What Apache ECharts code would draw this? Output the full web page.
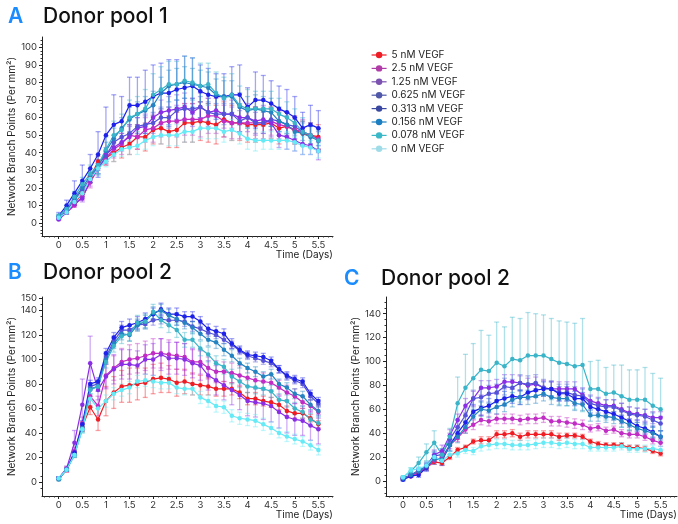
<!DOCTYPE html>
<html>
<head>
<meta charset="utf-8">
<title>Network branch points per donor pool</title>
<script src="https://cdn.jsdelivr.net/npm/echarts@6/dist/echarts.min.js"></script>
<style>
  html, body { margin: 0; padding: 0; background: #fff; }
  #main { width: 678px; height: 524px; }
</style>
</head>
<body>
<div id="main"></div>
<script>
// time points, every 4 h
var times = [0,0.1667,0.3333,0.5,0.6667,0.8333,1,1.1667,1.3333,1.5,1.6667,1.8333,2,2.1667,2.3333,2.5,2.6667,2.8333,
  3,3.1667,3.3333,3.5,3.6667,3.8333,4,4.1667,4.3333,4.5,4.6667,4.8333,5,5.1667,5.3333,5.5];

var names = ['5 nM VEGF','2.5 nM VEGF','1.25 nM VEGF','0.625 nM VEGF','0.313 nM VEGF','0.156 nM VEGF','0.078 nM VEGF','0 nM VEGF'];
var lineColors = ['#f01c24','#c02cc4','#8a2ee6','#5552d8','#1e22e8','#2483c0','#3ab4c8','#66eaf6'];
var legendColors = ['#ee1c25','#b03ca8','#7b52b0','#5058a8','#3a48a0','#1a7ec0','#3ab8c8','#a0dce8'];

// A - donor pool 1
var a5     = [3,6,11,17,26,35,37,40,43,45,49,49,53,54,52,53,57,57,58,57,56,59,57,57,56,56,56,57,54,55,53,51,50,49];
var a2_5   = [3,6,10,15,23,31,37,42,45,50,49,53,54,57,58,58,59,59,59,61,61,58,57,57,57,57,57,58,56,55,53,52,50,48];
var a1_25  = [2,6,11,14,24,33,39,43,46,49,54,55,60,63,64,65,66,63,66,63,64,62,62,60,60,58,59,57,50,49,47,45,44,41];
var a0_625 = [3,7,13,19,25,31,38,46,49,51,55,56,57,60,60,64,65,65,66,63,62,62,62,58,60,57,57,59,58,56,55,52,50,47];
var a0_313 = [4,10,17,24,31,39,50,56,58,67,67,69,72,74,74,76,77,78,75,73,72,72,73,73,66,70,70,68,65,63,60,54,56,54];
var a0_156 = [4,8,14,20,27,32,41,48,54,59,62,64,67,74,78,79,80,79,78,77,73,72,72,66,64,65,64,63,58,56,52,51,49,47];
var a0_078 = [4,8,15,22,28,33,42,50,53,60,62,65,73,76,79,79,81,80,78,79,74,71,73,67,65,65,65,65,62,60,57,52,50,47];
var a0     = [3,6,12,17,25,31,35,39,42,43,44,47,49,50,50,50,52,52,54,54,54,52,53,51,48,47,47,47,47,47,46,44,43,41];

var a5e     = [0.5,1,1,2,3,3,4,5,6,6,7,8,8,9,9,10,11,11,11,11,11,10,10,10,10,10,9,9,9,8,8,7,7,7];
var a2_5e   = [0.5,1,1,2,3,3,4,5,6,6,7,7,8,8,8,9,9,9,10,10,10,9,9,9,9,9,9,8,8,8,7,7,7,6];
var a1_25e  = [0.5,1,1,2,3,3,4,5,5,6,6,7,7,7,8,8,8,8,8,8,8,8,8,8,8,8,8,8,7,7,6,6,5,5];
var a0_625e = [0.5,1,1,2,2,3,3,4,4,5,5,5,6,6,6,6,6,6,6,6,6,6,6,6,6,6,6,6,6,5,5,5,5,5];
var a0_313e = [2,3,7,9,8,13,16,17,14,16,16,18,18,17,19,17,18,16,15,15,13,13,16,17,11,16,14,13,13,13,12,9,11,10];
var a0_156e = [1,2,2,3,4,4,5,6,6,7,7,8,8,9,9,9,9,9,9,9,9,9,9,8,8,8,8,8,8,7,7,7,6,6];
var a0_078e = [1,2,3,4,5,6,7,8,9,10,10,11,12,13,13,13,14,14,13,12,12,12,12,11,11,10,10,10,9,9,8,8,7,7];
var a0e     = [0.5,1,1,2,2,3,3,4,4,4,5,5,5,5,6,6,6,6,6,6,6,6,6,6,6,6,5,5,5,5,5,5,4,4];

// B - donor pool 2
var b5     = [3,10,23,45,61,51,66,73,78,79,80,81,84,85,84,81,82,80,79,78,76,76,76,73,68,68,66,65,63,58,56,56,52,47];
var b2_5   = [3,10,25,48,70,62,87,93,98,100,101,103,105,105,104,103,102,98,98,93,90,90,89,87,85,83,82,81,77,73,70,65,62,57];
var b1_25  = [3,11,32,63,97,75,86,92,96,96,95,100,100,104,101,101,100,97,95,87,83,79,75,71,66,65,64,62,57,53,51,50,46,43];
var b0_625 = [3,10,23,45,78,80,102,115,124,124,128,129,132,133,132,132,131,127,125,122,120,116,112,107,103,101,99,97,92,86,83,80,70,64];
var b0_313 = [3,10,24,47,80,82,105,118,126,128,130,133,137,141,137,137,135,135,131,125,123,121,113,108,104,103,102,99,92,87,84,82,72,66];
var b0_156 = [2,10,22,44,76,78,100,113,121,120,128,131,138,140,136,133,130,126,121,116,114,108,103,97,93,90,86,88,80,77,72,70,63,58];
var b0_078 = [3,10,22,43,75,78,98,111,119,121,130,131,139,132,128,124,116,116,109,104,97,94,86,82,78,77,76,74,67,66,60,57,51,48];
var b0     = [3,10,22,43,68,60,66,72,75,77,82,83,82,81,81,77,76,76,69,66,62,61,54,52,51,50,47,44,40,37,35,33,30,26];

var b5e     = [1,2,3,4,6,9,12,13,13,14,13,12,12,12,11,11,10,9,8,7,6,6,5,5,5,5,4,4,4,4,4,4,3,3];
var b2_5e   = [1,2,3,5,8,8,10,10,11,12,12,12,12,12,12,11,11,10,10,9,9,8,8,8,7,7,7,7,6,6,6,5,5,5];
var b1_25e  = [1,2,10,21,22,8,10,12,12,12,12,12,13,13,13,13,13,12,12,12,12,12,12,12,12,12,13,13,13,13,13,12,12,12];
var b0_625e = [1,1,2,3,3,3,4,4,4,4,4,4,4,4,4,4,4,4,4,3,3,3,3,3,3,3,3,3,3,3,3,3,3,3];
var b0_313e = [1,1,2,3,3,3,4,4,5,5,5,5,5,5,5,5,4,4,4,4,4,4,4,3,3,3,3,3,3,3,3,3,3,3];
var b0_156e = [1,1,2,3,4,4,4,4,5,5,5,5,5,5,5,5,5,5,5,5,5,5,5,4,4,4,4,4,4,4,4,4,4,4];
var b0_078e = [1,1,2,3,4,4,5,5,6,6,6,6,6,6,6,6,6,6,6,6,6,6,6,5,5,5,5,5,5,5,5,5,5,5];
var b0e     = [1,1,2,3,4,4,5,5,5,5,5,5,5,5,5,5,5,5,5,5,5,5,5,5,5,5,5,5,4,4,4,4,4,4];

// C - donor pool 2
var c5     = [2,4,7,11,16,15,20,26,28,33,34,34,39,39,40,37,39,39,39,39,37,38,38,37,33,31,30,30,30,28,28,27,25,23];
var c2_5   = [2,4,7,11,17,20,30,36,43,47,51,50,52,52,52,51,52,52,53,50,50,49,48,47,44,45,42,43,40,39,39,37,34,32];
var c1_25  = [2,5,9,12,22,25,38,51,63,69,78,78,79,83,83,82,80,81,78,77,77,77,77,72,67,65,63,63,60,57,56,55,53,53];
var c0_625 = [2,5,8,13,21,22,35,45,55,69,70,73,74,79,78,82,81,82,78,77,74,74,72,71,65,63,62,62,59,56,55,54,51,48];
var c0_313 = [1,4,5,11,20,17,30,40,49,58,61,63,67,69,71,70,74,76,77,77,73,73,69,69,62,60,58,56,53,50,46,44,41,37];
var c0_156 = [2,5,8,12,18,18,30,37,45,54,60,59,62,64,68,70,70,71,73,70,69,69,65,64,55,55,54,53,50,47,44,42,40,37];
var c0_078 = [3,8,15,24,32,22,37,65,78,86,93,92,99,96,102,101,105,105,105,102,99,98,96,97,77,77,73,74,71,68,68,68,63,60];
var c0     = [3,9,10,13,20,17,22,23,26,25,29,30,31,31,30,30,30,31,32,32,31,32,31,31,28,28,28,28,29,27,27,27,27,26];

var c5e     = [1,1,2,2,2,2,2,2,2,2,3,3,3,3,3,3,3,3,3,3,3,2,2,2,2,2,2,2,2,2,2,2,2,2];
var c2_5e   = [1,1,2,2,3,3,3,3,3,4,4,4,4,4,4,4,4,4,4,4,4,4,4,4,3,3,3,3,3,3,3,3,3,3];
var c1_25e  = [1,1,2,3,4,5,5,5,6,6,6,6,6,6,6,6,6,6,6,6,6,6,6,6,5,5,5,5,5,5,5,5,5,5];
var c0_625e = [1,1,2,3,4,5,5,6,6,7,7,7,7,7,7,7,7,7,7,7,7,7,7,6,6,6,6,6,6,6,6,6,6,6];
var c0_313e = [1,1,2,3,4,4,5,5,5,6,6,6,6,6,6,6,6,6,6,6,6,6,6,5,5,5,5,5,5,5,5,5,5,5];
var c0_156e = [1,1,2,3,4,4,5,5,5,6,6,6,6,6,6,6,6,6,6,6,6,6,6,5,5,5,5,5,5,5,5,5,5,5];
var c0_078e = [1,3,5,7,10,5,7,22,28,29,33,30,34,33,35,35,36,35,34,34,35,35,36,39,23,24,22,23,26,25,25,27,27,26];
var c0e     = [1,2,2,3,4,3,3,3,3,3,4,4,4,4,4,4,4,4,4,4,4,4,4,4,3,3,3,3,3,3,3,3,3,3];

var xLabels = [0,0.5,1,1.5,2,2.5,3,3.5,4,4.5,5,5.5];
var yLabelsA = [0,10,20,30,40,50,60,70,80,90,100];
var yLabelsB = [0,20,40,60,80,100,120,140,150];
var yLabelsC = [0,20,40,60,80,100,120,140];

var panels = [
  { vals: [a5,a2_5,a1_25,a0_625,a0_313,a0_156,a0_078,a0], errs: [a5e,a2_5e,a1_25e,a0_625e,a0_313e,a0_156e,a0_078e,a0e] },
  { vals: [b5,b2_5,b1_25,b0_625,b0_313,b0_156,b0_078,b0], errs: [b5e,b2_5e,b1_25e,b0_625e,b0_313e,b0_156e,b0_078e,b0e] },
  { vals: [c5,c2_5,c1_25,c0_625,c0_313,c0_156,c0_078,c0], errs: [c5e,c2_5e,c1_25e,c0_625e,c0_313e,c0_156e,c0_078e,c0e] }
];

var FONT = 'Inter, "Noto Sans", sans-serif';

function rgba(hex, a) {
  var n = parseInt(hex.slice(1), 16);
  return 'rgba(' + (n >> 16) + ',' + ((n >> 8) & 255) + ',' + (n & 255) + ',' + a + ')';
}

function steps(from, to, step, skip) {
  var out = [];
  for (var v = from; v <= to + 1e-9; v += step) {
    var r = Math.round(v * 1000) / 1000;
    if (skip && Math.abs(r / skip - Math.round(r / skip)) < 1e-6) continue;
    out.push(r);
  }
  return out;
}

function errorBars(params, api) {
  var x = api.value(0), v = api.value(1), e = api.value(2);
  var top = api.coord([x, v + e]);
  var bot = api.coord([x, v - e]);
  var hw = 2.5;
  var st = { stroke: api.visual('color'), lineWidth: 1.3 };
  return {
    type: 'group',
    children: [
      { type: 'line', shape: { x1: top[0], y1: top[1], x2: bot[0], y2: bot[1] }, style: st },
      { type: 'line', shape: { x1: top[0] - hw, y1: top[1], x2: top[0] + hw, y2: top[1] }, style: st },
      { type: 'line', shape: { x1: bot[0] - hw, y1: bot[1], x2: bot[0] + hw, y2: bot[1] }, style: st }
    ]
  };
}

var grids = [
  { left: 42, top: 37, width: 291, height: 199 },
  { left: 42, top: 297, width: 291, height: 199 },
  { left: 386, top: 297, width: 291, height: 199 }
];
var xRanges = [[-0.354, 5.81], [-0.354, 5.81], [-0.363, 5.85]];
var yRanges = [[-7.4, 105.9], [-11.5, 151], [-12.6, 154]];
var yLabelSets = [yLabelsA, yLabelsB, yLabelsC];
var yMinorStep = [2, 5, 5];
var yMajorStep = [10, 10, 20];

var xAxes = [], yAxes = [];
for (var g = 0; g < 3; g++) {
  xAxes.push({
    type: 'value', gridIndex: g, position: 'bottom', min: xRanges[g][0], max: xRanges[g][1],
    axisLine: { onZero: false, lineStyle: { color: '#222', width: 1 } },
    axisTick: { customValues: xLabels, length: 3, lineStyle: { color: '#222' } },
    axisLabel: { customValues: xLabels, fontSize: 9.5, color: '#333', margin: 4, fontFamily: FONT },
    splitLine: { show: false }
  });
  yAxes.push({
    type: 'value', gridIndex: g, position: 'left', min: yRanges[g][0], max: yRanges[g][1],
    name: 'Network Branch Points (Per mm²)', nameLocation: 'middle', nameGap: 25,
    nameTextStyle: { fontSize: 10, color: '#222', fontFamily: FONT },
    axisLine: { onZero: false, lineStyle: { color: '#222', width: 1 } },
    axisTick: { customValues: yLabelSets[g], length: 3, lineStyle: { color: '#222' } },
    axisLabel: { customValues: yLabelSets[g], fontSize: 9.5, color: '#333', margin: 5, fontFamily: FONT },
    splitLine: { show: false }
  });
}
// minor tick axes, same place as the main ones
for (var g2 = 0; g2 < 3; g2++) {
  var r = xRanges[g2];
  xAxes.push({
    type: 'value', gridIndex: g2, position: 'bottom', min: r[0], max: r[1],
    axisLine: { show: false, onZero: false }, axisLabel: { show: false }, splitLine: { show: false },
    axisTick: { customValues: steps(-0.3, 5.8, 0.1, 0.5), length: 1.5, lineStyle: { color: '#333' } }
  });
  var ry = yRanges[g2];
  var ys = Math.ceil(ry[0] / yMinorStep[g2]) * yMinorStep[g2];
  yAxes.push({
    type: 'value', gridIndex: g2, position: 'left', min: ry[0], max: ry[1],
    axisLine: { show: false, onZero: false }, axisLabel: { show: false }, splitLine: { show: false },
    axisTick: { customValues: steps(ys, ry[1], yMinorStep[g2], yMajorStep[g2]), length: 1.5, lineStyle: { color: '#333' } }
  });
}

var series = [];
panels.forEach(function (p, g) {
  for (var i = 0; i < 8; i++) {
    var vals = p.vals[i], errs = p.errs[i];
    series.push({
      type: 'custom', name: names[i] + ' err ' + g,
      xAxisIndex: g, yAxisIndex: g, z: 1,
      itemStyle: { color: rgba(lineColors[i], 0.4) },
      renderItem: errorBars,
      data: times.map(function (t, k) { return [t, vals[k], errs[k] || 0]; })
    });
  }
});
panels.forEach(function (p, g) {
  for (var i = 0; i < 8; i++) {
    var vals = p.vals[i];
    series.push({
      type: 'line', name: names[i],
      xAxisIndex: g, yAxisIndex: g, z: 2,
      symbol: 'circle', symbolSize: 4.5,
      itemStyle: { color: lineColors[i] },
      lineStyle: { color: lineColors[i], width: 1.2 },
      data: times.map(function (t, k) { return [t, vals[k]]; })
    });
  }
});

var graphic = [
  { type: 'text', left: 8, top: 6, style: { text: 'A', font: '600 21px ' + FONT, fill: '#1a8cff' } },
  { type: 'text', left: 43, top: 6, style: { text: 'Donor pool 1', font: '500 21px ' + FONT, fill: '#111' } },
  { type: 'text', left: 8, top: 262, style: { text: 'B', font: '600 21px ' + FONT, fill: '#1a8cff' } },
  { type: 'text', left: 43, top: 262, style: { text: 'Donor pool 2', font: '500 21px ' + FONT, fill: '#111' } },
  { type: 'text', left: 344, top: 268, style: { text: 'C', font: '600 21px ' + FONT, fill: '#1a8cff' } },
  { type: 'text', left: 381, top: 268, style: { text: 'Donor pool 2', font: '500 21px ' + FONT, fill: '#111' } },
  { type: 'text', right: 345, top: 250, style: { text: 'Time (Days)', font: '10px ' + FONT, fill: '#222' } },
  { type: 'text', right: 345, top: 510, style: { text: 'Time (Days)', font: '10px ' + FONT, fill: '#222' } },
  { type: 'text', right: 1, top: 510, style: { text: 'Time (Days)', font: '10px ' + FONT, fill: '#222' } }
];

var chart = echarts.init(document.getElementById('main'));
chart.setOption({
  animation: false,
  backgroundColor: '#fff',
  textStyle: { fontFamily: FONT },
  grid: grids,
  xAxis: xAxes,
  yAxis: yAxes,
  legend: {
    orient: 'vertical', left: 366, top: 44,
    itemWidth: 15, itemHeight: 8, itemGap: 1.4,
    textStyle: { fontSize: 10, color: '#222', lineHeight: 12, fontFamily: FONT },
    data: names.map(function (n, i) {
      return { name: n, itemStyle: { color: legendColors[i] }, lineStyle: { color: legendColors[i], width: 1.2 } };
    })
  },
  graphic: graphic,
  series: series
});
</script>
</body>
</html>
